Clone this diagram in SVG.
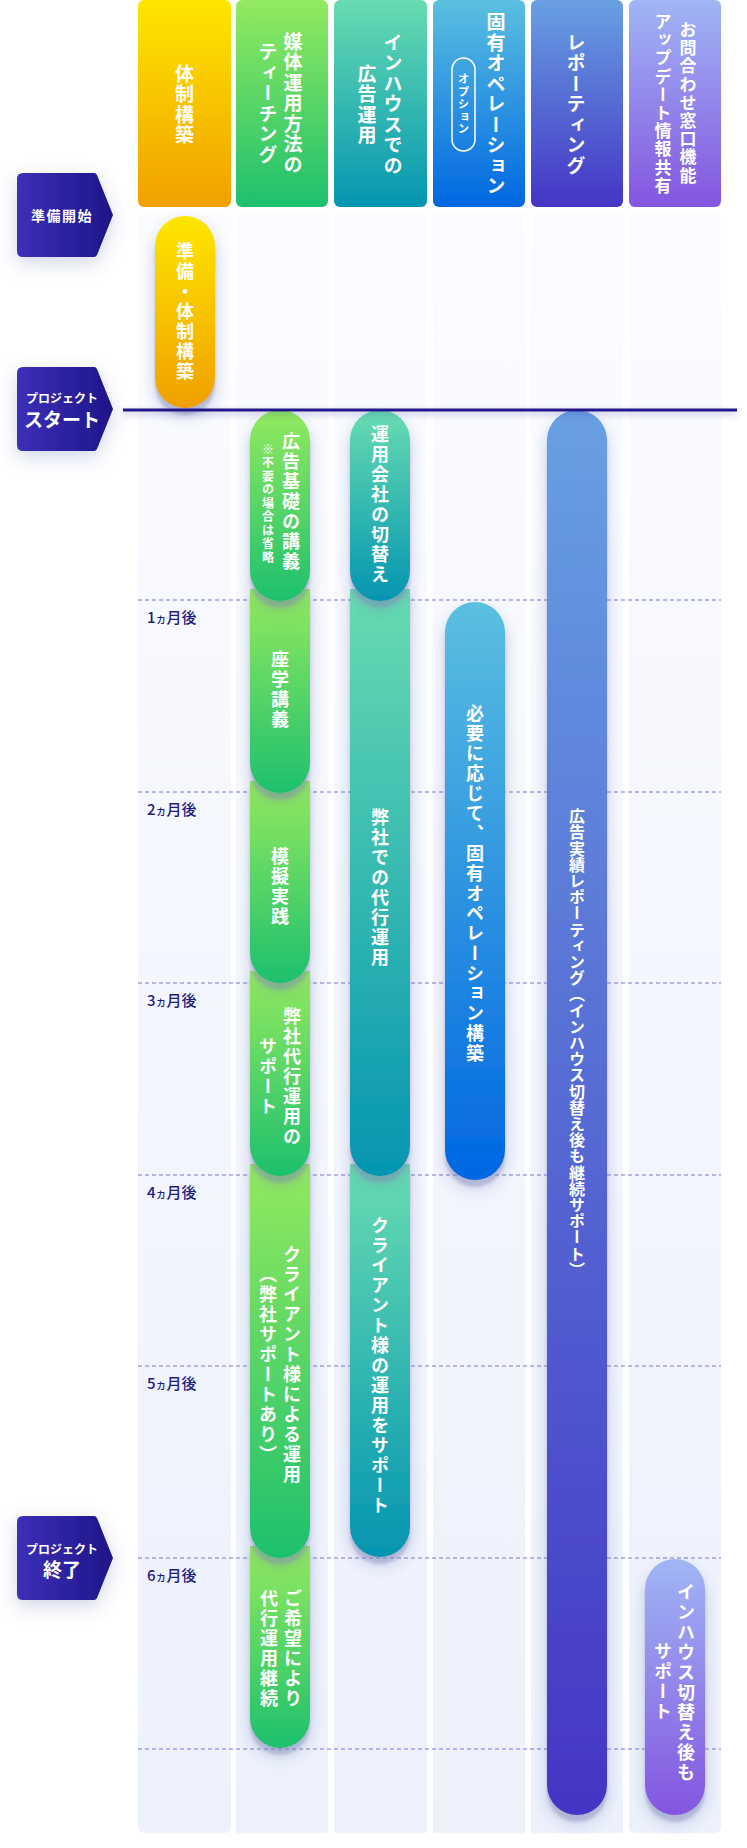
<svg xmlns="http://www.w3.org/2000/svg" width="747" height="1848" viewBox="0 0 747 1848">
<defs>
<linearGradient id="gY" x1="0" y1="0" x2="0" y2="1"><stop offset="0" stop-color="#ffe600"/><stop offset="1" stop-color="#f0a000"/></linearGradient>
<linearGradient id="gG" x1="0" y1="0" x2="0" y2="1"><stop offset="0" stop-color="#93ea5f"/><stop offset="1" stop-color="#1dc06e"/></linearGradient>
<linearGradient id="gT" x1="0" y1="0" x2="0" y2="1"><stop offset="0" stop-color="#68dcb1"/><stop offset="1" stop-color="#0495b1"/></linearGradient>
<linearGradient id="gB" x1="0" y1="0" x2="0" y2="1"><stop offset="0" stop-color="#5bc0e0"/><stop offset="1" stop-color="#0067e2"/></linearGradient>
<linearGradient id="gR" x1="0" y1="0" x2="0" y2="1"><stop offset="0" stop-color="#68a0e2"/><stop offset="1" stop-color="#4435c5"/></linearGradient>
<linearGradient id="gP" x1="0" y1="0" x2="0" y2="1"><stop offset="0" stop-color="#a0b6f5"/><stop offset="1" stop-color="#8455e0"/></linearGradient>
<linearGradient id="gCol" x1="0" y1="0" x2="0" y2="1"><stop offset="0" stop-color="#fbfcff"/><stop offset="1" stop-color="#edf1fc"/></linearGradient>
<linearGradient id="gBadge" x1="0" y1="0" x2="1" y2="0"><stop offset="0" stop-color="#3b30b8"/><stop offset="1" stop-color="#1e1588"/></linearGradient>
<filter id="shPill" x="-50%" y="-20%" width="200%" height="140%">
<feDropShadow dx="0" dy="6" stdDeviation="7" flood-color="#3a4a8f" flood-opacity="0.22"/>
<feDropShadow dx="0" dy="7" stdDeviation="1.5" flood-color="#8a92c2" flood-opacity="0.45"/>
</filter>
<filter id="shBadge" x="-40%" y="-50%" width="180%" height="200%">
<feDropShadow dx="0" dy="6" stdDeviation="9" flood-color="#4a5aa8" flood-opacity="0.25"/>
</filter>
<filter id="shLine" x="-5%" y="-400%" width="110%" height="900%">
<feDropShadow dx="0" dy="3" stdDeviation="3" flood-color="#3a3a90" flood-opacity="0.35"/>
</filter>
<style>
text{font-family:"Noto Sans CJK JP","Noto Sans",sans-serif;}
.vt{writing-mode:vertical-rl;text-anchor:middle;fill:#fff;font-weight:700;}
.h{font-size:19px;letter-spacing:1.5px;}
.h6{font-size:17px;letter-spacing:1.2px;}
.p{font-size:18px;letter-spacing:2px;}
.note{font-size:12px;letter-spacing:1.5px;}
.opt{font-size:11.5px;letter-spacing:1px;}
.rep{font-size:16px;letter-spacing:0.2px;}
.mon{font-size:15px;fill:#221a80;font-weight:500;}
.mon .k{font-size:11px;}
.bt{fill:#fff;font-weight:700;text-anchor:middle;}
.dash{stroke:#7a74c8;stroke-width:1;stroke-dasharray:4 3;}
.pill{filter:url(#shPill);}
</style>
</defs>

<g id="body-columns">
<rect x="138" y="213" width="93" height="1620" rx="6" fill="url(#gCol)"/>
<rect x="236" y="213" width="92" height="1620" rx="2" fill="url(#gCol)"/>
<rect x="334" y="213" width="93" height="1620" rx="2" fill="url(#gCol)"/>
<rect x="433" y="213" width="92" height="1620" rx="2" fill="url(#gCol)"/>
<rect x="531" y="213" width="92" height="1620" rx="2" fill="url(#gCol)"/>
<rect x="629" y="213" width="92" height="1620" rx="6" fill="url(#gCol)"/>
</g>

<g id="headers">
<g id="h-taisei">
<rect x="138" y="0" width="93" height="207" rx="6" fill="url(#gY)"/>
<text class="vt h" x="184.5" y="105">体制構築</text>
</g>
<g id="h-teaching">
<rect x="236" y="0" width="92" height="207" rx="6" fill="url(#gG)"/>
<text class="vt h" x="293" y="104">媒体運用方法の</text>
<text class="vt h" x="268" y="104">ティーチング</text>
</g>
<g id="h-inhouse">
<rect x="334" y="0" width="93" height="207" rx="6" fill="url(#gT)"/>
<text class="vt h" x="393" y="105">インハウスでの</text>
<text class="vt h" x="367" y="105">広告運用</text>
</g>
<g id="h-koyu">
<rect x="433" y="0" width="92" height="207" rx="6" fill="url(#gB)"/>
<text class="vt h" x="496" y="105">固有オペレーション</text>
<rect x="452" y="58" width="23" height="93" rx="11.5" fill="none" stroke="#fff" stroke-width="1.5"/>
<text class="vt opt" x="463.5" y="104.5">オプション</text>
</g>
<g id="h-report">
<rect x="531" y="0" width="92" height="207" rx="6" fill="url(#gR)"/>
<text class="vt h" x="576" y="105">レポーティング</text>
</g>
<g id="h-contact">
<rect x="629" y="0" width="92" height="207" rx="6" fill="url(#gP)"/>
<text class="vt h6" x="688" y="103">お問合わせ窓口機能</text>
<text class="vt h6" x="663" y="104">アップデート情報共有</text>
</g>
</g>

<g id="connectors">
<line class="dash" x1="138" y1="600" x2="721" y2="600"/>
<line class="dash" x1="138" y1="792" x2="721" y2="792"/>
<line class="dash" x1="138" y1="983" x2="721" y2="983"/>
<line class="dash" x1="138" y1="1175" x2="721" y2="1175"/>
<line class="dash" x1="138" y1="1366" x2="721" y2="1366"/>
<line class="dash" x1="138" y1="1558" x2="721" y2="1558"/>
<line class="dash" x1="138" y1="1749" x2="721" y2="1749"/>
</g>

<g id="month-labels">
<text class="mon" x="147" y="623">1<tspan class="k">ヵ</tspan>月後</text>
<text class="mon" x="147" y="815">2<tspan class="k">ヵ</tspan>月後</text>
<text class="mon" x="147" y="1006">3<tspan class="k">ヵ</tspan>月後</text>
<text class="mon" x="147" y="1198">4<tspan class="k">ヵ</tspan>月後</text>
<text class="mon" x="147" y="1389">5<tspan class="k">ヵ</tspan>月後</text>
<text class="mon" x="147" y="1581">6<tspan class="k">ヵ</tspan>月後</text>
</g>

<g id="pill-junbi">
<rect class="pill" x="155" y="216" width="60" height="192" rx="30" fill="url(#gY)"/>
<text class="vt p" x="185" y="312">準備・体制構築</text>
</g>

<g id="col-teaching">
<g id="pill-goki">
<path class="pill" d="M250,1546 H310 V1718 A30,30 0 0 1 250,1718 Z" fill="url(#gG)"/>
<text class="vt p" x="293" y="1649">ご希望により</text>
<text class="vt p" x="269" y="1649">代行運用継続</text>
</g>
<g id="pill-client">
<path class="pill" d="M250,1164 H310 V1528 A30,30 0 0 1 250,1528 Z" fill="url(#gG)"/>
<text class="vt p" x="292" y="1365">クライアント様による運用</text>
<text class="vt p" x="268" y="1365">（弊社サポートあり）</text>
</g>
<g id="pill-support">
<path class="pill" d="M250,971 H310 V1146 A30,30 0 0 1 250,1146 Z" fill="url(#gG)"/>
<text class="vt p" x="292" y="1077">弊社代行運用の</text>
<text class="vt p" x="268" y="1077">サポート</text>
</g>
<g id="pill-mogi">
<path class="pill" d="M250,781 H310 V953 A30,30 0 0 1 250,953 Z" fill="url(#gG)"/>
<text class="vt p" x="280" y="887">模擬実践</text>
</g>
<g id="pill-zagaku">
<path class="pill" d="M250,589 H310 V763 A30,30 0 0 1 250,763 Z" fill="url(#gG)"/>
<text class="vt p" x="280" y="690">座学講義</text>
</g>
<g id="pill-kiso">
<rect class="pill" x="250" y="410" width="60" height="191" rx="30" fill="url(#gG)"/>
<text class="vt p" x="291" y="502">広告基礎の講義</text>
<text class="vt note" x="268" y="504">※不要の場合は省略</text>
</g>
</g>

<g id="col-inhouse">
<g id="pill-client-support">
<path class="pill" d="M350,1164 H410 V1527 A30,30 0 0 1 350,1527 Z" fill="url(#gT)"/>
<text class="vt p" x="380" y="1366">クライアント様の運用をサポート</text>
</g>
<g id="pill-daiko">
<path class="pill" d="M350,589 H410 V1146 A30,30 0 0 1 350,1146 Z" fill="url(#gT)"/>
<text class="vt p" x="380" y="888">弊社での代行運用</text>
</g>
<g id="pill-kirikae">
<rect class="pill" x="350" y="410" width="60" height="191" rx="30" fill="url(#gT)"/>
<text class="vt p" x="380" y="505">運用会社の切替え</text>
</g>
</g>

<g id="pill-koyu">
<rect class="pill" x="445" y="602" width="60" height="578" rx="30" fill="url(#gB)"/>
<text class="vt p" x="475" y="884">必要に応じて、固有オペレーション構築</text>
</g>

<g id="pill-report">
<rect class="pill" x="547" y="410" width="60" height="1405" rx="30" fill="url(#gR)"/>
<text class="vt rep" x="577" y="1043">広告実績レポーティング（インハウス切替え後も継続サポート）</text>
</g>

<g id="pill-contact">
<rect class="pill" x="645" y="1559" width="60" height="256" rx="30" fill="url(#gP)"/>
<text class="vt p" x="686" y="1683">インハウス切替え後も</text>
<text class="vt p" x="663" y="1682">サポート</text>
</g>

<g id="start-line">
<rect x="123" y="408.5" width="614" height="3" fill="#20168a" filter="url(#shLine)"/>
</g>

<g id="badge-junbi">
<path d="M23,173 H94 Q96,173 97,175 L113,215 L97,255 Q96,257 94,257 H23 Q17,257 17,251 V179 Q17,173 23,173 Z" fill="url(#gBadge)" filter="url(#shBadge)"/>
<text class="bt" x="62" y="221" style="font-size:14px;letter-spacing:1.5px">準備開始</text>
</g>
<g id="badge-start">
<path d="M23,367 H94 Q96,367 97,369 L113,409 L97,449 Q96,451 94,451 H23 Q17,451 17,445 V373 Q17,367 23,367 Z" fill="url(#gBadge)" filter="url(#shBadge)"/>
<text class="bt" x="62" y="403" style="font-size:12px">プロジェクト</text>
<text class="bt" x="62" y="427" style="font-size:19px">スタート</text>
</g>
<g id="badge-end">
<path d="M23,1516 H94 Q96,1516 97,1518 L113,1558 L97,1598 Q96,1600 94,1600 H23 Q17,1600 17,1594 V1522 Q17,1516 23,1516 Z" fill="url(#gBadge)" filter="url(#shBadge)"/>
<text class="bt" x="62" y="1554" style="font-size:12px">プロジェクト</text>
<text class="bt" x="62" y="1577" style="font-size:19px">終了</text>
</g>
</svg>
